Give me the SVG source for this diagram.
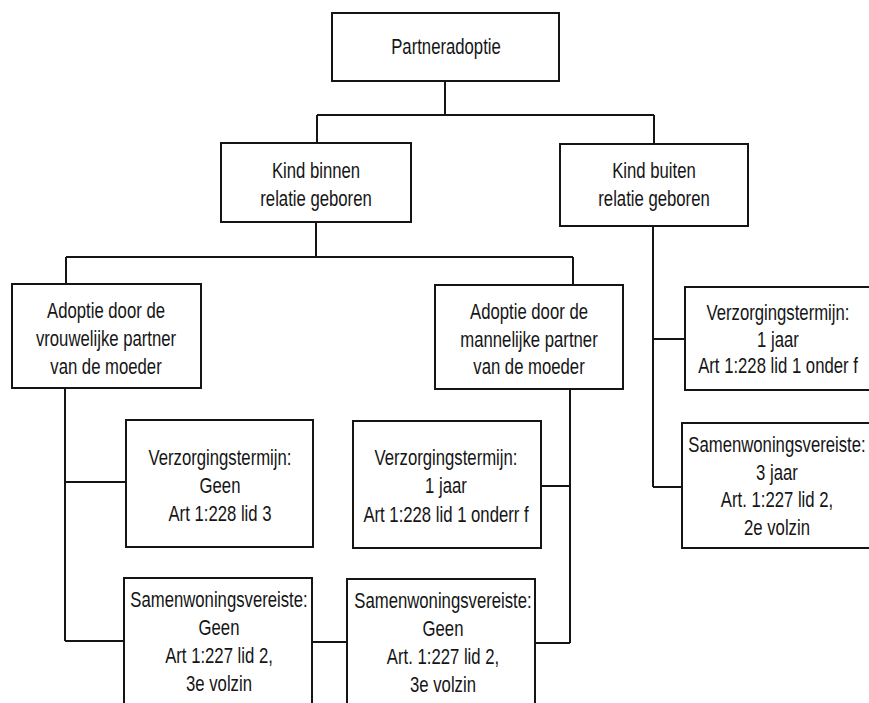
<svg xmlns="http://www.w3.org/2000/svg" width="869" height="703" viewBox="0 0 869 703">
<style>
.box{fill:#fff;stroke:#151515;stroke-width:2}
.c{fill:none;stroke:#151515;stroke-width:2}
.t{font-family:"Liberation Sans",Arial,sans-serif;font-size:22px;text-anchor:middle;fill:#151515}
</style>
<rect width="869" height="703" fill="#fff"/>
<g id="connectors">
<path class="c" d="M445,81V115M317,115H654M317,115V143M654,115V144"/>
<path class="c" d="M316,222V257M66,257H573M66,257V284M573,257V285"/>
<path class="c" d="M65,388V641M65,482H126M65,641H124"/>
<path class="c" d="M570,389V643M541,486H570M535,643H570"/>
<path class="c" d="M312,642H347"/>
<path class="c" d="M653,226V487M653,339H685M653,487H682"/>
</g>
<g id="n-partneradoptie">
<rect class="box" x="332" y="13" width="227" height="68"/>
<text class="t" transform="translate(446,0) scale(.76,1)"><tspan x="0" y="54">Partneradoptie</tspan></text>
</g>
<g id="n-kind-binnen">
<rect class="box" x="221" y="143" width="190" height="79"/>
<text class="t" transform="translate(316,0) scale(.76,1)"><tspan x="0" y="178">Kind binnen</tspan><tspan x="0" y="206">relatie geboren</tspan></text>
</g>
<g id="n-kind-buiten">
<rect class="box" x="560" y="144" width="188" height="82"/>
<text class="t" transform="translate(654,0) scale(.76,1)"><tspan x="0" y="178">Kind buiten</tspan><tspan x="0" y="206">relatie geboren</tspan></text>
</g>
<g id="n-adoptie-vrouw">
<rect class="box" x="12" y="284" width="189" height="104"/>
<text class="t" transform="translate(106,0) scale(.76,1)"><tspan x="0" y="318">Adoptie door de</tspan><tspan x="0" y="346">vrouwelijke partner</tspan><tspan x="0" y="374">van de moeder</tspan></text>
</g>
<g id="n-adoptie-man">
<rect class="box" x="435" y="285" width="188" height="104"/>
<text class="t" transform="translate(529,0) scale(.76,1)"><tspan x="0" y="319">Adoptie door de</tspan><tspan x="0" y="347">mannelijke partner</tspan><tspan x="0" y="374">van de moeder</tspan></text>
</g>
<g id="n-verzorg-geen">
<rect class="box" x="126" y="420" width="187" height="127"/>
<text class="t" transform="translate(220,0) scale(.76,1)"><tspan x="0" y="465">Verzorgingstermijn:</tspan><tspan x="0" y="493">Geen</tspan><tspan x="0" y="521">Art 1:228 lid 3</tspan></text>
</g>
<g id="n-verzorg-1jaar-man">
<rect class="box" x="353" y="421" width="188" height="127"/>
<text class="t" transform="translate(446,0) scale(.76,1)"><tspan x="0" y="465">Verzorgingstermijn:</tspan><tspan x="0" y="493">1 jaar</tspan><tspan x="0" y="522">Art 1:228 lid 1 onderr f</tspan></text>
</g>
<g id="n-samen-geen-vrouw">
<rect class="box" x="124" y="578" width="188" height="135"/>
<text class="t" transform="translate(219,0) scale(.76,1)"><tspan x="0" y="607">Samenwoningsvereiste:</tspan><tspan x="0" y="635">Geen</tspan><tspan x="0" y="663">Art 1:227 lid 2,</tspan><tspan x="0" y="691">3e volzin</tspan></text>
</g>
<g id="n-samen-geen-man">
<rect class="box" x="347" y="579" width="188" height="135"/>
<text class="t" transform="translate(443,0) scale(.76,1)"><tspan x="0" y="608">Samenwoningsvereiste:</tspan><tspan x="0" y="636">Geen</tspan><tspan x="0" y="664">Art. 1:227 lid 2,</tspan><tspan x="0" y="692">3e volzin</tspan></text>
</g>
<g id="n-verzorg-1jaar-buiten">
<rect class="box" x="685" y="287" width="188" height="103"/>
<text class="t" transform="translate(778,0) scale(.76,1)"><tspan x="0" y="320">Verzorgingstermijn:</tspan><tspan x="0" y="347">1 jaar</tspan><tspan x="0" y="373">Art 1:228 lid 1 onder f</tspan></text>
</g>
<g id="n-samen-3jaar">
<rect class="box" x="682" y="423" width="191" height="125"/>
<text class="t" transform="translate(777,0) scale(.76,1)"><tspan x="0" y="452">Samenwoningsvereiste:</tspan><tspan x="0" y="480">3 jaar</tspan><tspan x="0" y="507">Art. 1:227 lid 2,</tspan><tspan x="0" y="535">2e volzin</tspan></text>
</g>
</svg>
